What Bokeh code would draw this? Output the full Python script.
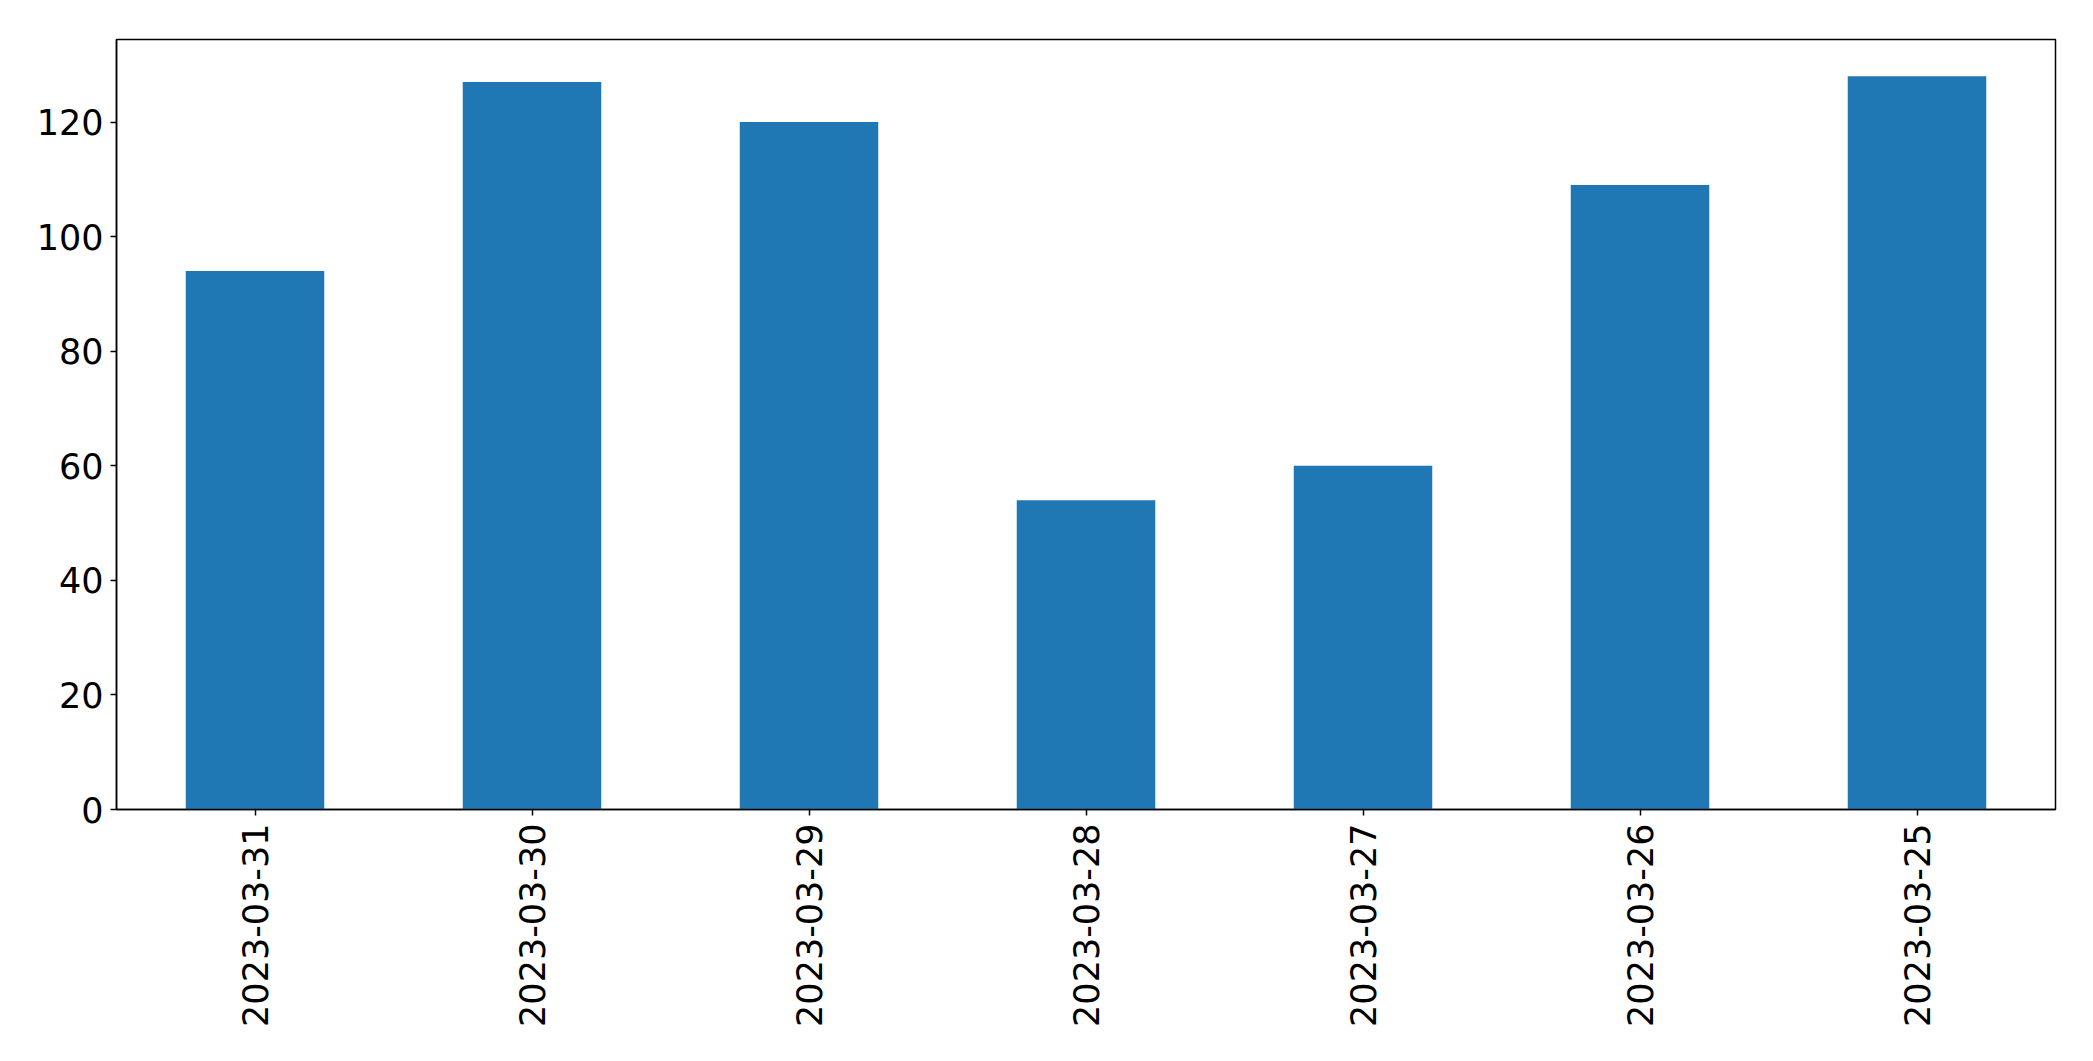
from bokeh.plotting import figure
from bokeh.models import ColumnDataSource, Range1d, FixedTicker
from bokeh.embed import file_html
from bokeh.resources import INLINE
import math

dates = ["2023-03-31", "2023-03-30", "2023-03-29", "2023-03-28",
         "2023-03-27", "2023-03-26", "2023-03-25"]
counts = [94, 127, 120, 54, 60, 109, 128]
y_ticks = [0, 20, 40, 60, 80, 100, 120]

source = ColumnDataSource(data=dict(dates=dates, counts=counts))

p = figure(x_range=dates, y_range=Range1d(0, max(counts) * 1.05),
           width=2085, height=1053, output_backend="svg", toolbar_location=None,
           min_border_left=116, min_border_top=39, min_border_right=30, min_border_bottom=244)
p.x_range.range_padding = 0

p.vbar(x="dates", top="counts", width=0.5, source=source,
       fill_color="#1f77b4", line_color=None)

p.xgrid.visible = False
p.ygrid.visible = False
p.outline_line_color = "black"
p.outline_line_width = 1.5
p.outline_line_alpha = 1.0

font = "DejaVu Sans"
for ax in (p.xaxis[0], p.yaxis[0]):
    ax.axis_line_color = "black"
    ax.axis_line_width = 1.5
    ax.major_tick_line_color = "black"
    ax.major_tick_line_width = 1.5
    ax.major_tick_out = 6
    ax.major_tick_in = 0
    ax.minor_tick_line_color = None
    ax.major_label_text_font = font
    ax.major_label_text_font_size = "35px"
    ax.major_label_text_color = "black"

p.yaxis[0].ticker = FixedTicker(ticks=y_ticks)
p.yaxis[0].major_label_standoff = 7
p.xaxis[0].major_label_orientation = math.pi / 2
p.xaxis[0].major_label_standoff = 8
p.xaxis[0].group_text_font_size = "0px"

open("out.html", "w").write(file_html(p, INLINE))
